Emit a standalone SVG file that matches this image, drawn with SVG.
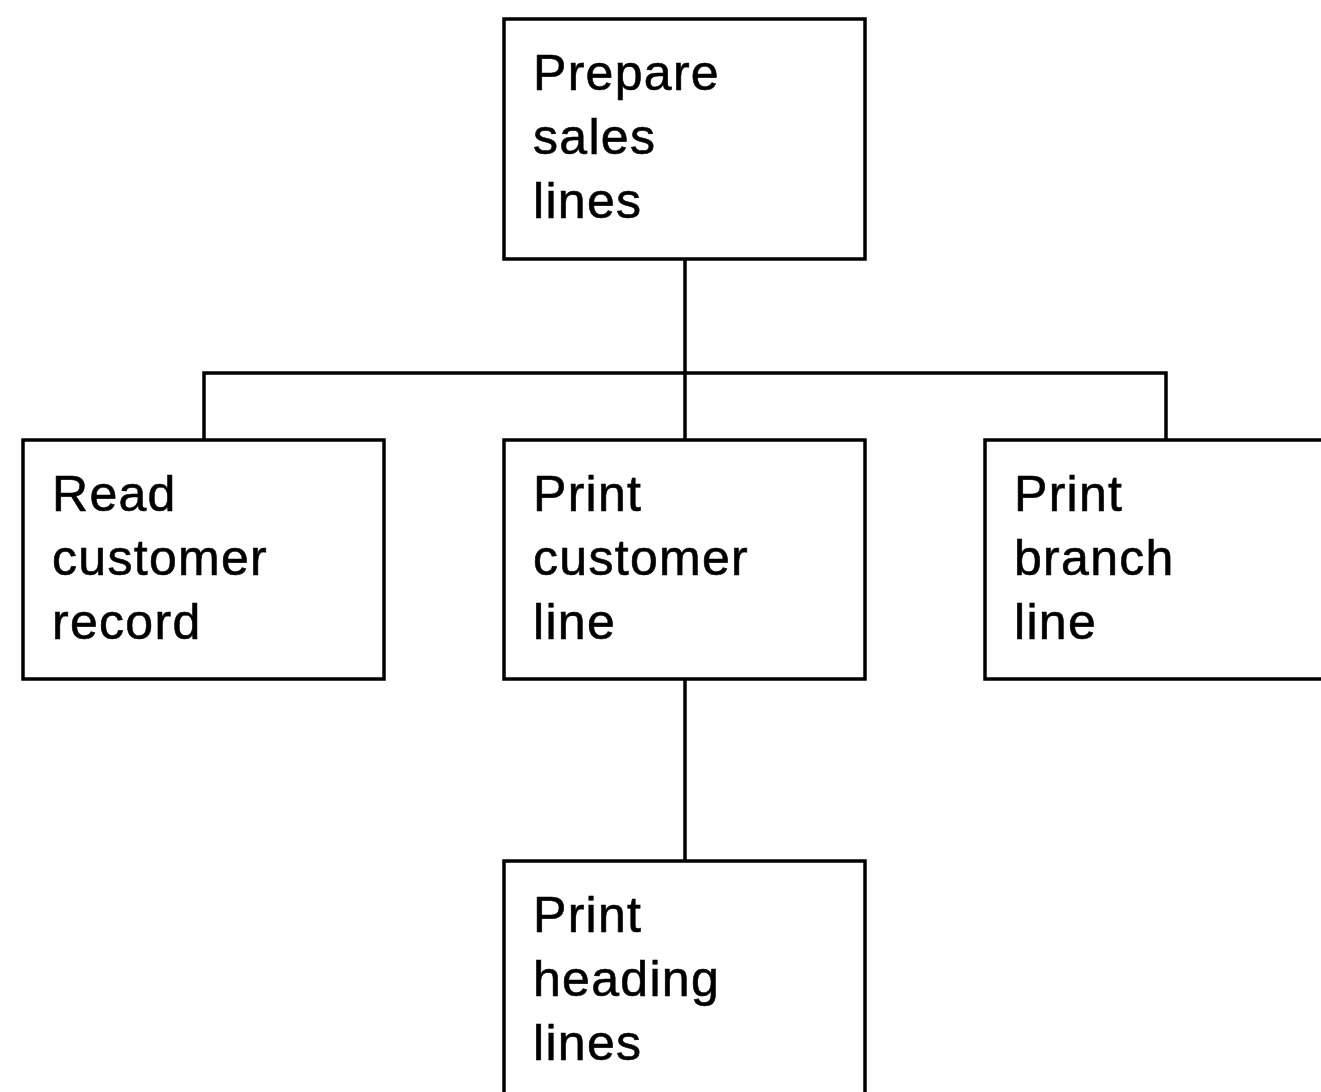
<svg xmlns="http://www.w3.org/2000/svg" width="1321" height="1092" viewBox="0 0 1321 1092">
  <style>
    .box { fill: #ffffff; stroke: #000000; stroke-width: 3.5; }
    .wire { fill: none; stroke: #000000; stroke-width: 3.5; }
    .label { font-family: "Liberation Sans", Arial, sans-serif; font-size: 50px; letter-spacing: 1.3px; fill: #000000; stroke: #000000; stroke-width: 0.6; }
  </style>
  <rect width="1321" height="1092" fill="#ffffff"/>

  <!-- connectors -->
  <g id="connectors">
    <path class="wire" d="M685 259 V440"/>
    <path class="wire" d="M204 440 V373 H1166 V440"/>
    <path class="wire" d="M685 679 V861"/>
  </g>

  <!-- nodes -->
  <g id="prepare-sales-lines">
    <rect class="box" x="504" y="19" width="361" height="240"/>
    <text class="label" x="533" y="90">Prepare</text>
    <text class="label" x="533" y="154">sales</text>
    <text class="label" x="533" y="218">lines</text>
  </g>

  <g id="read-customer-record">
    <rect class="box" x="23" y="440" width="361" height="239"/>
    <text class="label" x="52" y="511">Read</text>
    <text class="label" x="52" y="575">customer</text>
    <text class="label" x="52" y="639">record</text>
  </g>

  <g id="print-customer-line">
    <rect class="box" x="504" y="440" width="361" height="239"/>
    <text class="label" x="533" y="511">Print</text>
    <text class="label" x="533" y="575">customer</text>
    <text class="label" x="533" y="639">line</text>
  </g>

  <g id="print-branch-line">
    <rect class="box" x="985" y="440" width="361" height="239"/>
    <text class="label" x="1014" y="511">Print</text>
    <text class="label" x="1014" y="575">branch</text>
    <text class="label" x="1014" y="639">line</text>
  </g>

  <g id="print-heading-lines">
    <rect class="box" x="504" y="861" width="361" height="240"/>
    <text class="label" x="533" y="932">Print</text>
    <text class="label" x="533" y="996">heading</text>
    <text class="label" x="533" y="1060">lines</text>
  </g>
</svg>
